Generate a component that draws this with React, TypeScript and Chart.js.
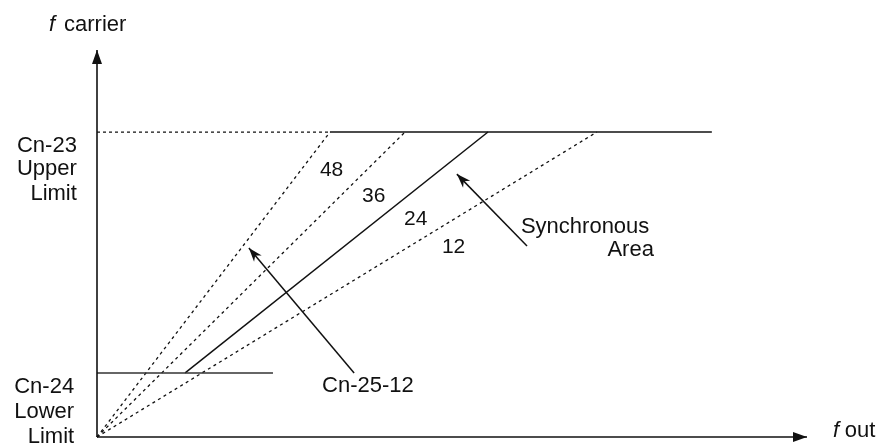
import React, { useEffect, useRef } from "react";
import { Chart, registerables } from "chart.js";

Chart.register(...registerables);

// ---- data (arbitrary schematic units: upper limit = 100) ----
const X_MAX = 232.8;
const Y_MAX = 126.9;
const UPPER_LIMIT = 100;
const LOWER_LIMIT = 21.0;
const UPPER_END_X = 201.6;
const LOWER_END_X = 57.7;

const ratioLabels = ["48", "36", "24", "12"];
// x where each ratio line reaches the upper limit
const ratioEndX = [76.4, 101.0, 128.2, 163.9];
// x where the synchronous (24) solid line starts on the lower limit
const syncStartX = 28.9;

// ratio numbers placement
const ratioTextX = [73.1, 86.9, 100.7, 113.1];
const ratioTextY = [85.6, 77.0, 69.5, 60.3];

// text labels: [text, x, y, align, italic]
const labelTexts = ["f", "carrier", "Cn-23", "Upper", "Limit", "Cn-24", "Lower", "Limit", "Synchronous", "Area", "Cn-25-12", "f", "out"];
const labelX = [-15.7, -10.8, -6.6, -6.6, -6.6, -7.5, -7.5, -7.5, 139.0, 182.6, 73.8, 241.3, 245.2];
const labelY = [133.1, 133.1, 93.4, 85.9, 77.7, 14.4, 6.2, -2.0, 66.9, 59.3, 14.8, 0, 0];
const labelAlign = ["left", "left", "right", "right", "right", "right", "right", "right", "left", "right", "left", "left", "left"];
const labelItalic = [true, false, false, false, false, false, false, false, false, false, false, true, false];

// pointer arrows: tail -> tip
const arrowNames = ["Synchronous Area", "Cn-25-12"];
const arrowTail = [[141.0, 62.6], [84.3, 21.0]];
const arrowTip = [[118.0, 86.2], [49.8, 62.0]];

const FONT = '"Liberation Sans", Arial, Helvetica, sans-serif';
const INK = "#111";

function lineDs(label: string, pts: number[][], opts: any = {}) {
  return {
    type: "line" as const,
    label,
    data: pts.map(([x, y]) => ({ x, y })),
    borderColor: INK,
    backgroundColor: INK,
    borderWidth: 1.4,
    pointRadius: 0,
    showLine: true,
    fill: false,
    tension: 0,
    clip: false as any,
    ...opts,
  };
}

const overlayPlugin = {
  id: "overlay",
  afterDatasetsDraw(chart: any) {
    const ctx = chart.ctx;
    const xs = chart.scales.x;
    const ys = chart.scales.y;
    const px = (v: number) => xs.getPixelForValue(v);
    const py = (v: number) => ys.getPixelForValue(v);

    // arrowheads
    chart.data.datasets.forEach((ds: any) => {
      if (!ds.arrowHead) return;
      const n = ds.data.length;
      const a = ds.data[n - 2];
      const b = ds.data[n - 1];
      const x1 = px(a.x), y1 = py(a.y), x2 = px(b.x), y2 = py(b.y);
      const ang = Math.atan2(y2 - y1, x2 - x1);
      const len = ds.arrowHead.len;
      const hw = ds.arrowHead.hw;
      const notch = ds.arrowHead.notch;
      ctx.save();
      ctx.translate(x2, y2);
      ctx.rotate(ang);
      ctx.beginPath();
      ctx.moveTo(0, 0);
      ctx.lineTo(-len, -hw);
      ctx.lineTo(-len * notch, 0);
      ctx.lineTo(-len, hw);
      ctx.closePath();
      ctx.fillStyle = INK;
      ctx.fill();
      ctx.restore();
    });

    // text
    ctx.save();
    ctx.fillStyle = INK;
    ctx.textBaseline = "alphabetic";
    labelTexts.forEach((t, i) => {
      ctx.font = `${labelItalic[i] ? "italic " : ""}22px ${FONT}`;
      ctx.textAlign = labelAlign[i];
      ctx.fillText(t, px(labelX[i]), py(labelY[i]));
    });
    ratioLabels.forEach((t, i) => {
      ctx.font = `21px ${FONT}`;
      ctx.textAlign = "left";
      ctx.fillText(t, px(ratioTextX[i]), py(ratioTextY[i]));
    });
    ctx.restore();
  },
};

export default function App() {
  const ref = useRef<HTMLCanvasElement | null>(null);

  useEffect(() => {
    document.body.style.margin = "0";
    const canvas = ref.current;
    if (!canvas) return;

    const datasets: any[] = [
      lineDs("y axis", [[0, 0], [0, Y_MAX]], { borderWidth: 1.6, arrowHead: { len: 14, hw: 5, notch: 1 } }),
      lineDs("x axis", [[0, 0], [X_MAX, 0]], { borderWidth: 1.6, arrowHead: { len: 14, hw: 5, notch: 1 } }),
      lineDs("upper limit dashed", [[0, UPPER_LIMIT], [ratioEndX[0], UPPER_LIMIT]], { borderDash: [3, 3], borderWidth: 1.2 }),
      lineDs("upper limit", [[ratioEndX[0], UPPER_LIMIT], [UPPER_END_X, UPPER_LIMIT]], { borderWidth: 1.4 }),
      lineDs("lower limit", [[0, LOWER_LIMIT], [LOWER_END_X, LOWER_LIMIT]], { borderWidth: 1.4, borderColor: "#333" }),
    ];
    ratioLabels.forEach((r, i) => {
      if (r === "24") {
        datasets.push(
          lineDs("ratio " + r, [[syncStartX, LOWER_LIMIT], [ratioEndX[i], UPPER_LIMIT]], { borderWidth: 1.5 })
        );
      } else {
        datasets.push(
          lineDs("ratio " + r, [[0, 0], [ratioEndX[i], UPPER_LIMIT]], { borderDash: [3, 3.5], borderWidth: 1.3 })
        );
      }
    });
    arrowNames.forEach((n, i) => {
      datasets.push(
        lineDs(n, [arrowTail[i], arrowTip[i]], { borderWidth: 1.5, arrowHead: { len: 14, hw: 5, notch: 0.7 } })
      );
    });

    const chart = new Chart(canvas, {
      type: "scatter",
      data: { datasets },
      options: {
        responsive: false,
        animation: false,
        devicePixelRatio: 1,
        layout: { padding: { left: 97, right: 74, top: 50, bottom: 10 } },
        plugins: { legend: { display: false }, tooltip: { enabled: false } },
        events: [],
        scales: {
          x: { type: "linear", min: 0, max: X_MAX, display: false },
          y: { type: "linear", min: 0, max: Y_MAX, display: false },
        },
      },
      plugins: [overlayPlugin],
    });
    return () => chart.destroy();
  }, []);

  return (
    <div style={{ width: 881, height: 447, background: "#fff" }}>
      <canvas ref={ref} width={881} height={447} style={{ display: "block" }} />
    </div>
  );
}
